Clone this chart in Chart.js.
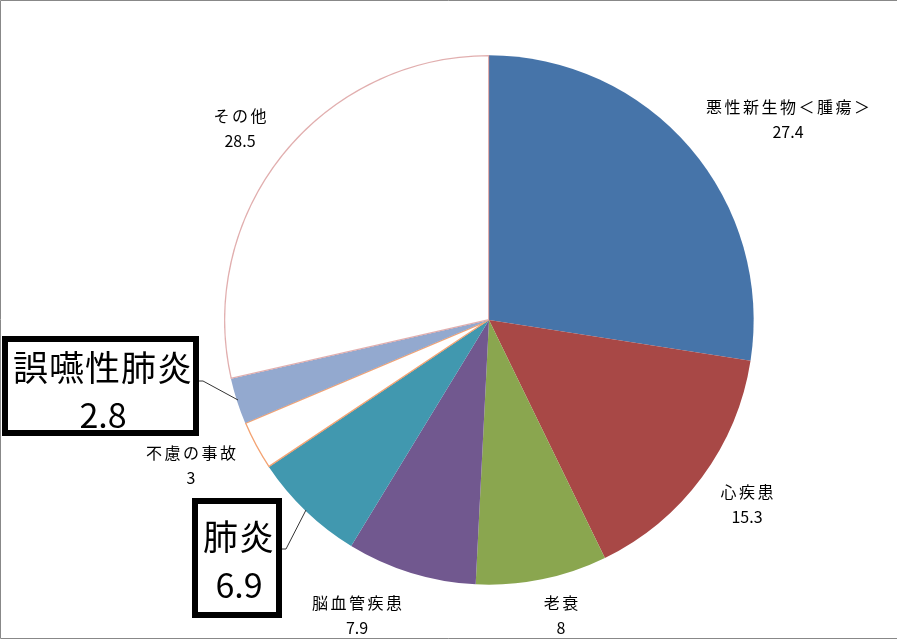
<!DOCTYPE html>
<html lang="ja">
<head>
<meta charset="UTF-8">
<title>死因別割合</title>
<script src="https://cdn.jsdelivr.net/npm/chart.js"></script>
<style>
  html, body { margin: 0; padding: 0; background: #fff; }
  #wrap { position: relative; width: 897px; height: 640px; }
</style>
</head>
<body>
<div id="wrap"><canvas id="c" width="897" height="640"></canvas></div>
<script>
// データ
const labels = ['悪性新生物＜腫瘍＞', '心疾患', '老衰', '脳血管疾患', '肺炎', '不慮の事故', '誤嚥性肺炎', 'その他'];
const values = [27.4, 15.3, 8, 7.9, 6.9, 3, 2.8, 28.5];
const colors = ['#4674A9', '#A84846', '#8AA64F', '#71588F', '#4198AF', '#FFFFFF', '#93A9CF', '#FFFFFF'];
const borderColors = ['#4674A9', '#A84846', '#8AA64F', '#71588F', '#4198AF', 'rgba(240,140,80,0.8)', '#93A9CF', 'rgba(205,120,120,0.6)'];
const borderWidths = [0, 0, 0, 0, 0, 1, 0, 1];

// ラベル位置（円の中心からのずれ）
const labelPos = [
  [299, -213], [258, 172], [72, 283], [-132, 283], null, [-298, 133], null, [-249, -204]
];
// 強調ボックス
const callouts = {
  4: { box: [192, 498, 90, 120], text: [239, 537], num: [239, 585], line: [[282, 549], [286, 549], [306, 510]] },
  6: { box: [2, 336, 197, 100], text: [103, 368], num: [103, 415], line: [[199, 381], [203, 381], [238, 400]] }
};

const labelPlugin = {
  id: 'labelPlugin',
  afterDatasetsDraw(chart) {
    const ctx = chart.ctx;
    const arc = chart.getDatasetMeta(0).data[0];
    const cx = arc.x, cy = arc.y;
    ctx.save();
    ctx.fillStyle = '#000';
    ctx.textAlign = 'center';
    ctx.textBaseline = 'middle';
    labels.forEach((name, i) => {
      const p = labelPos[i];
      if (!p) return;
      ctx.font = '16px "Noto Sans CJK JP"';
      ctx.letterSpacing = '2.5px';
      ctx.fillText(name, cx + p[0] + 1.25, cy + p[1]);
      ctx.letterSpacing = '0px';
      ctx.font = '16px "Noto Sans CJK JP"';
      ctx.fillText(String(values[i]), cx + p[0], cy + p[1] + 25);
    });
    Object.keys(callouts).forEach(k => {
      const c = callouts[k];
      // 引き出し線
      ctx.strokeStyle = '#333';
      ctx.lineWidth = 1;
      ctx.beginPath();
      c.line.forEach((pt, j) => j ? ctx.lineTo(pt[0], pt[1]) : ctx.moveTo(pt[0], pt[1]));
      ctx.stroke();
      // 枠
      ctx.fillStyle = '#fff';
      ctx.fillRect(c.box[0], c.box[1], c.box[2], c.box[3]);
      ctx.strokeStyle = '#000';
      ctx.lineWidth = 6;
      ctx.strokeRect(c.box[0] + 3, c.box[1] + 3, c.box[2] - 6, c.box[3] - 6);
      ctx.fillStyle = '#000';
      ctx.font = '35px "Noto Sans CJK JP"';
      ctx.letterSpacing = '1px';
      ctx.fillText(labels[k], c.text[0], c.text[1]);
      ctx.letterSpacing = '0px';
      ctx.font = '34px "Noto Sans CJK JP"';
      ctx.fillText(String(values[k]), c.num[0], c.num[1]);
    });
    ctx.restore();
  },
  afterDraw(chart) {
    const ctx = chart.ctx;
    ctx.save();
    ctx.strokeStyle = '#888';
    ctx.lineWidth = 1;
    ctx.beginPath();
    ctx.moveTo(897, 0.5); ctx.lineTo(0.5, 0.5); ctx.lineTo(0.5, 638.5); ctx.lineTo(897, 638.5);
    ctx.stroke();
    ctx.restore();
  }
};

new Chart(document.getElementById('c'), {
  type: 'pie',
  data: {
    labels: labels,
    datasets: [{
      data: values,
      backgroundColor: colors,
      borderColor: borderColors,
      borderWidth: borderWidths,
      borderAlign: 'inner'
    }]
  },
  options: {
    responsive: false,
    animation: false,
    layout: { padding: { left: 224, right: 143, top: 55, bottom: 55 } },
    plugins: {
      legend: { display: false },
      tooltip: { enabled: false }
    }
  },
  plugins: [labelPlugin]
});
</script>
</body>
</html>
